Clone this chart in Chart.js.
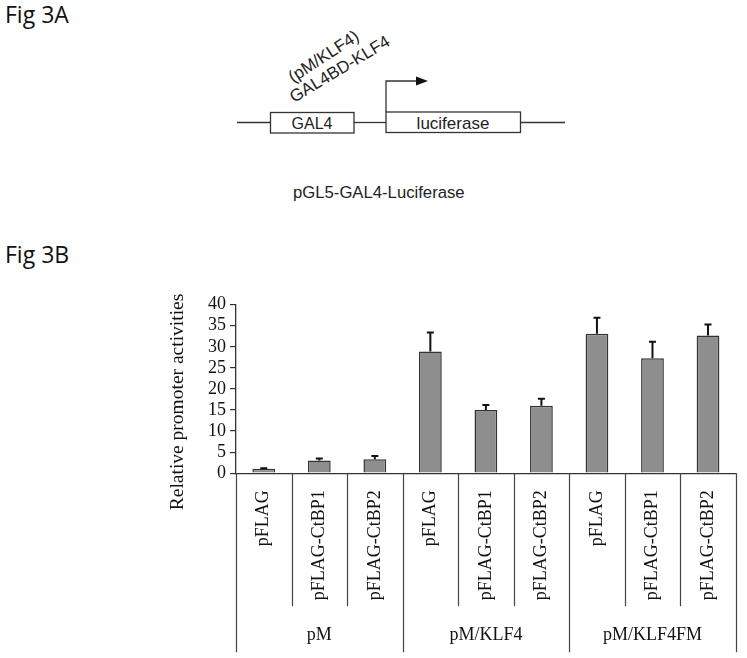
<!DOCTYPE html>
<html>
<head>
<meta charset="utf-8">
<script src="https://cdn.jsdelivr.net/npm/chart.js@4"></script>
<style>
  html, body { margin: 0; padding: 0; background: #fff; }
  body { width: 747px; height: 658px; position: relative; overflow: hidden; }
  .fig { position: absolute; left: 5px; font-family: "Open Sans", sans-serif; font-size: 23px; color: #111; line-height: 1; }
  #diagram { position: absolute; left: 0; top: 0; }
  #chartBox { position: absolute; left: 0; top: 280px; width: 747px; height: 378px; }
</style>
</head>
<body>
<div class="fig" style="top:3px">Fig 3A</div>
<div class="fig" style="top:243px">Fig 3B</div>

<svg id="diagram" width="747" height="230" font-family="Liberation Sans, Arial, sans-serif" fill="#222">
  <g stroke="#333" stroke-width="1.3" fill="none">
    <line x1="237" y1="122.5" x2="270" y2="122.5"/>
    <line x1="354" y1="122.5" x2="386" y2="122.5"/>
    <line x1="521" y1="122.5" x2="565" y2="122.5"/>
    <rect x="270.5" y="112.5" width="83.5" height="20.5" fill="#fff"/>
    <rect x="386" y="112" width="134.5" height="20.5" fill="#fff"/>
    <polyline points="386,112 386,81 418,81"/>
  </g>
  <polygon points="416,76.5 428,81 416,85.5" fill="#111"/>
  <text x="312" y="128.5" font-size="16" text-anchor="middle">GAL4</text>
  <text x="453" y="128.5" font-size="17" text-anchor="middle">luciferase</text>
  <text x="0" y="0" font-size="17" transform="translate(293,83) rotate(-33)">(pM/KLF4)</text>
  <text x="0" y="0" font-size="17" transform="translate(294,103) rotate(-31)">GAL4BD-KLF4</text>
  <text x="293" y="198" font-size="16.7">pGL5-GAL4-Luciferase</text>
</svg>

<div id="chartBox"><canvas id="chart" width="747" height="378"></canvas></div>

<script>
const groupLabels = ['pM', 'pM/KLF4', 'pM/KLF4FM'];
const subLabels = ['pFLAG', 'pFLAG-CtBP1', 'pFLAG-CtBP2'];
const activityValues = [1.05, 3.0, 3.3, 28.9, 15.0, 16.0, 33.1, 27.3, 32.7];
const activityErrors = [0.15, 0.5, 0.8, 4.5, 1.2, 1.7, 3.8, 3.9, 2.6];
const yTicks = [0, 5, 10, 15, 20, 25, 30, 35, 40];

const labels = [];
groupLabels.forEach(() => subLabels.forEach(s => labels.push(s)));

const serif = '"Liberation Serif", "Times New Roman", serif';

// error bars, category dividers, group labels, y title
const extrasPlugin = {
  id: 'extras',
  afterDatasetsDraw(chart) {
    const ctx = chart.ctx;
    const y = chart.scales.y;
    const meta = chart.getDatasetMeta(0);
    ctx.save();
    ctx.strokeStyle = '#111';
    ctx.lineWidth = 2;
    meta.data.forEach((bar, i) => {
      const top = y.getPixelForValue(activityValues[i] + activityErrors[i]);
      ctx.beginPath();
      ctx.moveTo(bar.x, bar.y);
      ctx.lineTo(bar.x, top);
      ctx.moveTo(bar.x - 3.5, top);
      ctx.lineTo(bar.x + 3.5, top);
      ctx.stroke();
    });
    ctx.restore();
  },
  afterDraw(chart) {
    const ctx = chart.ctx;
    const x = chart.scales.x;
    const a = chart.chartArea;
    ctx.save();
    ctx.strokeStyle = '#444';
    ctx.lineWidth = 1.2;
    for (let i = 0; i <= labels.length; i++) {
      const px = Math.round(x.getPixelForValue(i - 0.5)) + 0.5;
      const outer = i % subLabels.length === 0;
      ctx.beginPath();
      ctx.moveTo(px, a.bottom);
      ctx.lineTo(px, a.bottom + (outer ? 179 : 133));
      ctx.stroke();
    }
    ctx.fillStyle = '#111';
    ctx.font = '18px ' + serif;
    ctx.textAlign = 'center';
    ctx.textBaseline = 'middle';
    groupLabels.forEach((g, gi) => {
      const cx = x.getPixelForValue(gi * subLabels.length + (subLabels.length - 1) / 2);
      ctx.fillText(g, cx, a.bottom + 162);
    });
    ctx.font = '19.5px ' + serif;
    ctx.translate(a.left - 58, (a.top + a.bottom) / 2 + 13);
    ctx.rotate(-Math.PI / 2);
    ctx.fillText('Relative promoter activities', 0, 0);
    ctx.restore();
  }
};

new Chart(document.getElementById('chart'), {
  type: 'bar',
  data: {
    labels: labels,
    datasets: [{
      data: activityValues,
      backgroundColor: '#8e8e8e',
      borderColor: '#333',
      borderWidth: 1.5,
      borderSkipped: 'bottom',
      categoryPercentage: 1,
      barPercentage: 0.41
    }]
  },
  options: {
    responsive: false,
    animation: false,
    layout: { padding: { top: 24.7, right: 7, left: 0, bottom: 0 } },
    plugins: { legend: { display: false }, tooltip: { enabled: false } },
    scales: {
      x: {
        offset: true,
        grid: { display: false, drawTicks: false },
        border: { display: true, color: '#333', width: 1.3 },
        ticks: {
          autoSkip: false,
          minRotation: 90,
          maxRotation: 90,
          padding: 17,
          color: '#111',
          font: { family: serif, size: 18 }
        },
        afterFit(scale) { scale.height = 184.8; }
      },
      y: {
        min: 0,
        max: 40,
        afterBuildTicks(scale) { scale.ticks = yTicks.map(v => ({ value: v })); },
        grid: { drawOnChartArea: false, drawTicks: true, tickLength: 6, color: '#333', lineWidth: 1.2 },
        border: { display: true, color: '#333', width: 1.3 },
        ticks: {
          autoSkip: false,
          padding: 4,
          color: '#111',
          font: { family: serif, size: 18 }
        },
        afterFit(scale) { scale.width = 236; }
      }
    }
  },
  plugins: [extrasPlugin]
});
</script>
</body>
</html>
